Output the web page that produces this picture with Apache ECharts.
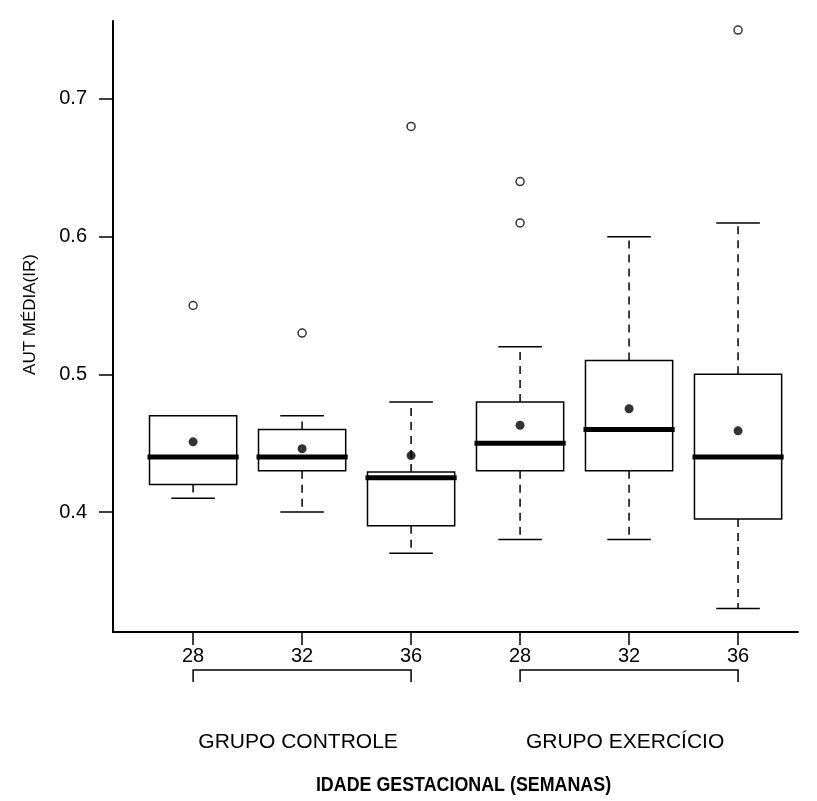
<!DOCTYPE html>
<html>
<head>
<meta charset="utf-8">
<script src="https://cdn.jsdelivr.net/npm/echarts@6/dist/echarts.min.js"></script>
<style>
html,body{margin:0;padding:0;background:#fff;}
#chart{width:817px;height:801px;}
</style>
</head>
<body>
<div id="chart"></div>
<script>
// ---- data ----
const categories = ['28', '32', '36', '28', '32', '36'];
const whiskerLow  = [0.41, 0.40, 0.37, 0.38, 0.38, 0.33];
const q1          = [0.42, 0.43, 0.39, 0.43, 0.43, 0.395];
const medians     = [0.44, 0.44, 0.425, 0.45, 0.46, 0.44];
const q3          = [0.47, 0.46, 0.429, 0.48, 0.51, 0.50];
const whiskerHigh = [0.47, 0.47, 0.48, 0.52, 0.60, 0.61];
const means       = [0.451, 0.446, 0.441, 0.463, 0.475, 0.459];
// outliers: [category index, value]
const outliers = [[0, 0.55], [1, 0.53], [2, 0.68], [3, 0.64], [3, 0.61], [5, 0.75]];
const yTicks = [0.4, 0.5, 0.6, 0.7];
const groups = [
  { name: 'GRUPO CONTROLE', from: 0, to: 2 },
  { name: 'GRUPO EXERCÍCIO', from: 3, to: 5 }
];
const yName = 'AUT MÉDIA(IR)';
const xName = 'IDADE GESTACIONAL (SEMANAS)';

// ---- chart ----
const Y_MIN = 0.3129, Y_MAX = 0.7566;
const X_MIN = 0.265, X_MAX = 6.55;
const BOX_W = 0.8, CAP_W = 0.4;
const FONT = "'Liberation Sans', Arial, sans-serif";

const pos = categories.map((c, i) => i + 1);
const boxData = categories.map((c, i) => [pos[i], whiskerLow[i], q1[i], medians[i], q3[i], whiskerHigh[i]]);
const meanData = means.map((m, i) => [pos[i], m]);
const outData = outliers.map(o => [o[0] + 1, o[1]]);

const chart = echarts.init(document.getElementById('chart'), null, { renderer: 'canvas' });

function renderBox(params, api) {
  const x = api.value(0);
  const lo = api.coord([x, api.value(1)]);
  const b1 = api.coord([x, api.value(2)]);
  const md = api.coord([x, api.value(3)]);
  const b3 = api.coord([x, api.value(4)]);
  const hi = api.coord([x, api.value(5)]);
  const hw = api.size([BOX_W, 0])[0] / 2;
  const cw = api.size([CAP_W, 0])[0] / 2;
  const cx = lo[0];
  const solid = { stroke: '#000', lineWidth: 1.5, fill: null };
  const dashed = { stroke: '#000', lineWidth: 1.5, lineDash: [8, 6], fill: null };
  return {
    type: 'group',
    children: [
      { type: 'line', shape: { x1: cx, y1: b3[1], x2: cx, y2: hi[1] }, style: dashed },
      { type: 'line', shape: { x1: cx, y1: b1[1], x2: cx, y2: lo[1] }, style: dashed },
      { type: 'line', shape: { x1: cx - cw, y1: hi[1], x2: cx + cw, y2: hi[1] }, style: solid },
      { type: 'line', shape: { x1: cx - cw, y1: lo[1], x2: cx + cw, y2: lo[1] }, style: solid },
      { type: 'rect', shape: { x: cx - hw, y: b3[1], width: 2 * hw, height: b1[1] - b3[1] }, style: { stroke: '#000', lineWidth: 1.5, fill: '#fff' } },
      { type: 'line', shape: { x1: cx - hw - 2, y1: md[1], x2: cx + hw + 2, y2: md[1] }, style: { stroke: '#000', lineWidth: 5 } }
    ]
  };
}

// group brackets + group names + axis titles (drawn relative to the axes)
function renderGroup(params, api) {
  const g = groups[params.dataIndex];
  const a = api.coord([g.from + 1, Y_MIN]);
  const b = api.coord([g.to + 1, Y_MIN]);
  const yb = a[1] + 38;
  const yf = a[1] + 50;
  const children = [
    { type: 'polyline', shape: { points: [[a[0], yf], [a[0], yb], [b[0], yb], [b[0], yf]] }, style: { stroke: '#000', lineWidth: 1.5, fill: null } },
    { type: 'text', x: (a[0] + b[0]) / 2 - 4, y: a[1] + 110,
      style: { text: g.name, fill: '#000', font: "21px " + FONT, align: 'center', verticalAlign: 'middle' } }
  ];
  if (params.dataIndex === 0) {
    const left = api.coord([X_MIN, Y_MIN]);
    const right = api.coord([X_MAX, Y_MIN]);
    const top = api.coord([X_MIN, Y_MAX]);
    children.push({ type: 'text', x: (left[0] + right[0]) / 2 + 8, y: left[1] + 153, scaleX: 0.85,
      style: { text: xName, fill: '#000', font: "bold 21px " + FONT, align: 'center', verticalAlign: 'middle' } });
    children.push({ type: 'text', x: left[0] - 83, y: (left[1] + top[1]) / 2 - 12, rotation: Math.PI / 2,
      style: { text: yName, fill: '#000', font: "17px " + FONT, align: 'center', verticalAlign: 'middle' } });
  }
  return { type: 'group', children };
}

chart.setOption({
  animation: false,
  backgroundColor: '#fff',
  grid: { left: 113, right: 19, top: 21, bottom: 169, containLabel: false },
  xAxis: {
    type: 'value', min: X_MIN, max: X_MAX,
    axisLine: { show: true, onZero: false, lineStyle: { color: '#000', width: 2 } },
    axisTick: { show: true, length: 13, customValues: pos, lineStyle: { color: '#000', width: 1.5 } },
    axisLabel: { customValues: pos, margin: 14, color: '#000', fontFamily: FONT, fontSize: 20,
      formatter: v => categories[Math.round(v) - 1] || '' },
    splitLine: { show: false }
  },
  yAxis: {
    type: 'value', min: Y_MIN, max: Y_MAX,
    axisLine: { show: true, onZero: false, lineStyle: { color: '#000', width: 2 } },
    axisTick: { show: true, length: 14, customValues: yTicks, lineStyle: { color: '#000', width: 1.5 } },
    axisLabel: { customValues: yTicks, margin: 26, color: '#000', fontFamily: FONT, fontSize: 20,
      formatter: v => v.toFixed(1) },
    splitLine: { show: false }
  },
  series: [
    { type: 'custom', renderItem: renderBox, data: boxData, encode: { x: 0, y: [1, 2, 3, 4, 5] }, z: 2 },
    { type: 'scatter', data: meanData, symbol: 'circle', symbolSize: 9, itemStyle: { color: '#000' }, z: 3 },
    { type: 'scatter', data: outData, symbol: 'circle', symbolSize: 8, itemStyle: { color: '#fff', borderColor: '#000', borderWidth: 1.5 }, z: 3 },
    { type: 'custom', renderItem: renderGroup, data: groups.map((g, i) => [g.from + 1, Y_MIN]), clip: false, silent: true, z: 1 }
  ]
});
</script>
</body>
</html>
